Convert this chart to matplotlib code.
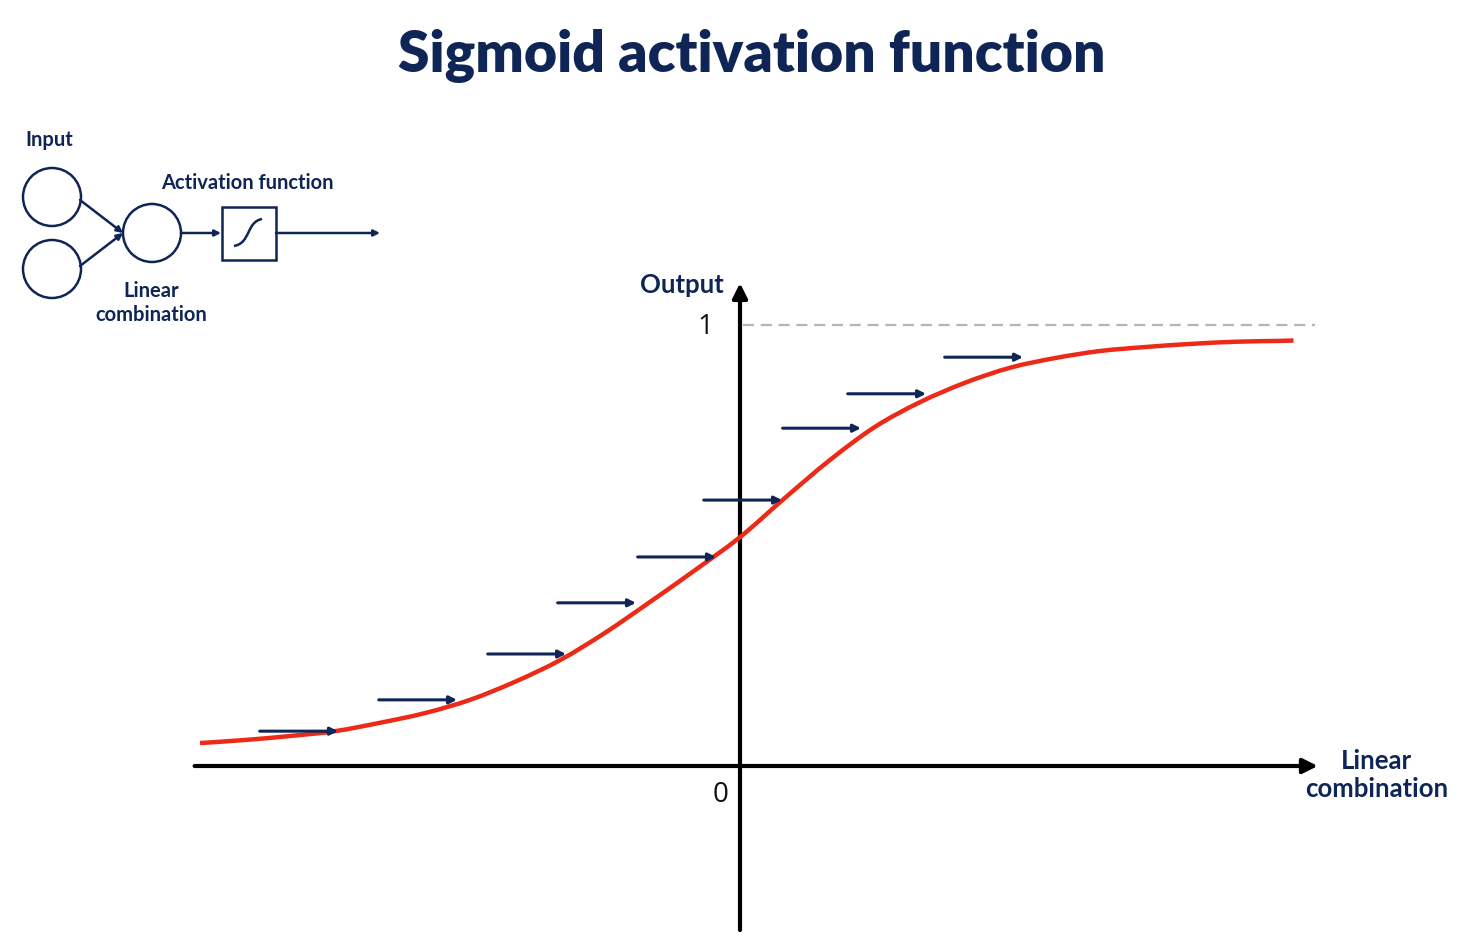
import numpy as np
import matplotlib.pyplot as plt
from matplotlib.patches import Circle, Rectangle, PathPatch
from matplotlib.path import Path

# sigmoid curve (x = linear combination, y = output)
curve_x = [-6.0, -5.5, -5.0, -4.5, -4.0, -3.5, -3.0, -2.5, -2.0, -1.5, -1.0, -0.5, 0.0,
           0.5, 1.0, 1.5, 2.0, 2.5, 3.0, 3.5, 4.0, 4.5, 5.0, 5.5, 6.0, 6.15]
curve_y = [0.052, 0.059, 0.068, 0.079, 0.098, 0.120, 0.150, 0.191, 0.240, 0.302, 0.372, 0.444, 0.519,
           0.608, 0.694, 0.769, 0.825, 0.869, 0.903, 0.925, 0.941, 0.950, 0.957, 0.962, 0.964, 0.965]

# small arrows pointing at the curve (tip positions)
arrow_x = [-4.467, -3.144, -1.933, -1.156, -0.267, 0.467, 1.344, 2.067, 3.144]
arrow_y = [0.079, 0.150, 0.254, 0.370, 0.474, 0.603, 0.766, 0.844, 0.927]
arrow_len = 0.87

title = 'Sigmoid activation function'
ylabel = 'Output'
xlabel = 'Linear\ncombination'
yticks = [1]
ytick_labels = ['1']

navy = '#0e2556'
red = '#ec2a17'


def smooth_path(xs, ys):
    # Catmull-Rom through the read points, drawn as cubic Bezier segments
    p = np.column_stack([xs, ys])
    p = np.vstack([p[0], p, p[-1]])
    verts = [p[1]]
    codes = [Path.MOVETO]
    for i in range(1, len(p) - 2):
        c1 = p[i] + (p[i + 1] - p[i - 1]) / 6
        c2 = p[i + 1] - (p[i + 2] - p[i]) / 6
        verts += [c1, c2, p[i + 1]]
        codes += [Path.CURVE4] * 3
    return Path(verts, codes)


W, H = 1468, 939
fig = plt.figure(figsize=(W / 100, H / 100), dpi=100)
fig.patch.set_facecolor('white')

# main axes, scaled so origin sits at pixel (740, 766)
ax = fig.add_axes([0, 0, 1, 1])
ax.set_xlim((0 - 740) / 90, (W - 740) / 90)
ax.set_ylim((766 - H) / 441, 766 / 441)
ax.axis('off')

# axes with arrow heads
ax.annotate('', xy=(6.42, 0), xytext=(-6.06, 0),
            arrowprops=dict(arrowstyle='-|>', lw=3, color='black', mutation_scale=22, shrinkA=0, shrinkB=0))
ax.annotate('', xy=(0, 1.095), xytext=(0, -0.372),
            arrowprops=dict(arrowstyle='-|>', lw=3, color='black', mutation_scale=22, shrinkA=0, shrinkB=0))

# dashed asymptote
ax.plot([0.03, 6.39], [1, 1], color='#b5b5b5', lw=1.6, ls=(0, (5, 3)))

# curve
ax.add_patch(PathPatch(smooth_path(curve_x, curve_y), fill=False, ec=red, lw=3.2,
                       capstyle='butt', zorder=3))

for x, y in zip(arrow_x, arrow_y):
    ax.annotate('', xy=(x, y), xytext=(x - arrow_len, y),
                arrowprops=dict(arrowstyle='-|>', lw=2.2, color=navy, mutation_scale=11,
                                shrinkA=0, shrinkB=0), zorder=4)

for t, lab in zip(yticks, ytick_labels):
    ax.text(-0.39, t - 0.005, lab, ha='center', va='center', fontsize=20, family='Open Sans', color='#111111')
ax.text(-0.22, -0.065, '0', ha='center', va='center', fontsize=20, family='Open Sans', color='#111111')

ax.text(-0.18, 1.09, ylabel, ha='right', va='center', fontsize=18.5, family='Lato',
        weight='bold', color=navy)
ax.text(7.07, -0.02, xlabel, ha='center', va='center', fontsize=18.5, family='Lato',
        weight='bold', color=navy, linespacing=1.2)

fig.text(752 / W, 1 - 56 / H, title, ha='center', va='center', fontsize=41, family='Lato',
         weight='heavy', color=navy)

# small neuron diagram (pixel coordinates)
d = fig.add_axes([0, 0, 1, 1], zorder=-1)
d.set_xlim(0, W)
d.set_ylim(H, 0)
d.axis('off')
lw_d = 1.8
for cx, cy in [(52, 197), (52, 269), (152, 233)]:
    d.add_patch(Circle((cx, cy), 29, fill=False, ec=navy, lw=lw_d))
arr = dict(arrowstyle='-|>', lw=lw_d, color=navy, mutation_scale=9, shrinkA=0, shrinkB=0)
d.annotate('', xy=(123, 233), xytext=(80, 200), arrowprops=arr)
d.annotate('', xy=(123, 233), xytext=(80, 266), arrowprops=arr)
d.annotate('', xy=(221, 233), xytext=(181, 233), arrowprops=arr)
d.annotate('', xy=(380, 233), xytext=(276, 233), arrowprops=arr)
d.add_patch(Rectangle((222, 207), 54, 53, fill=False, ec=navy, lw=lw_d))
s_path = Path([(234, 246), (251, 243), (246, 222), (262, 219)],
              [Path.MOVETO, Path.CURVE4, Path.CURVE4, Path.CURVE4])
d.add_patch(PathPatch(s_path, fill=False, ec=navy, lw=lw_d))
d.text(25, 140, 'Input', ha='left', va='center', fontsize=14.5, family='Lato', weight='bold', color=navy)
d.text(247, 183, 'Activation function', ha='center', va='center', fontsize=14.5, family='Lato',
       weight='bold', color=navy)
d.text(151, 303, 'Linear\ncombination', ha='center', va='center', fontsize=14.5, family='Lato',
       weight='bold', color=navy, linespacing=1.25)

fig.savefig('out.png', dpi=100, facecolor='white')
